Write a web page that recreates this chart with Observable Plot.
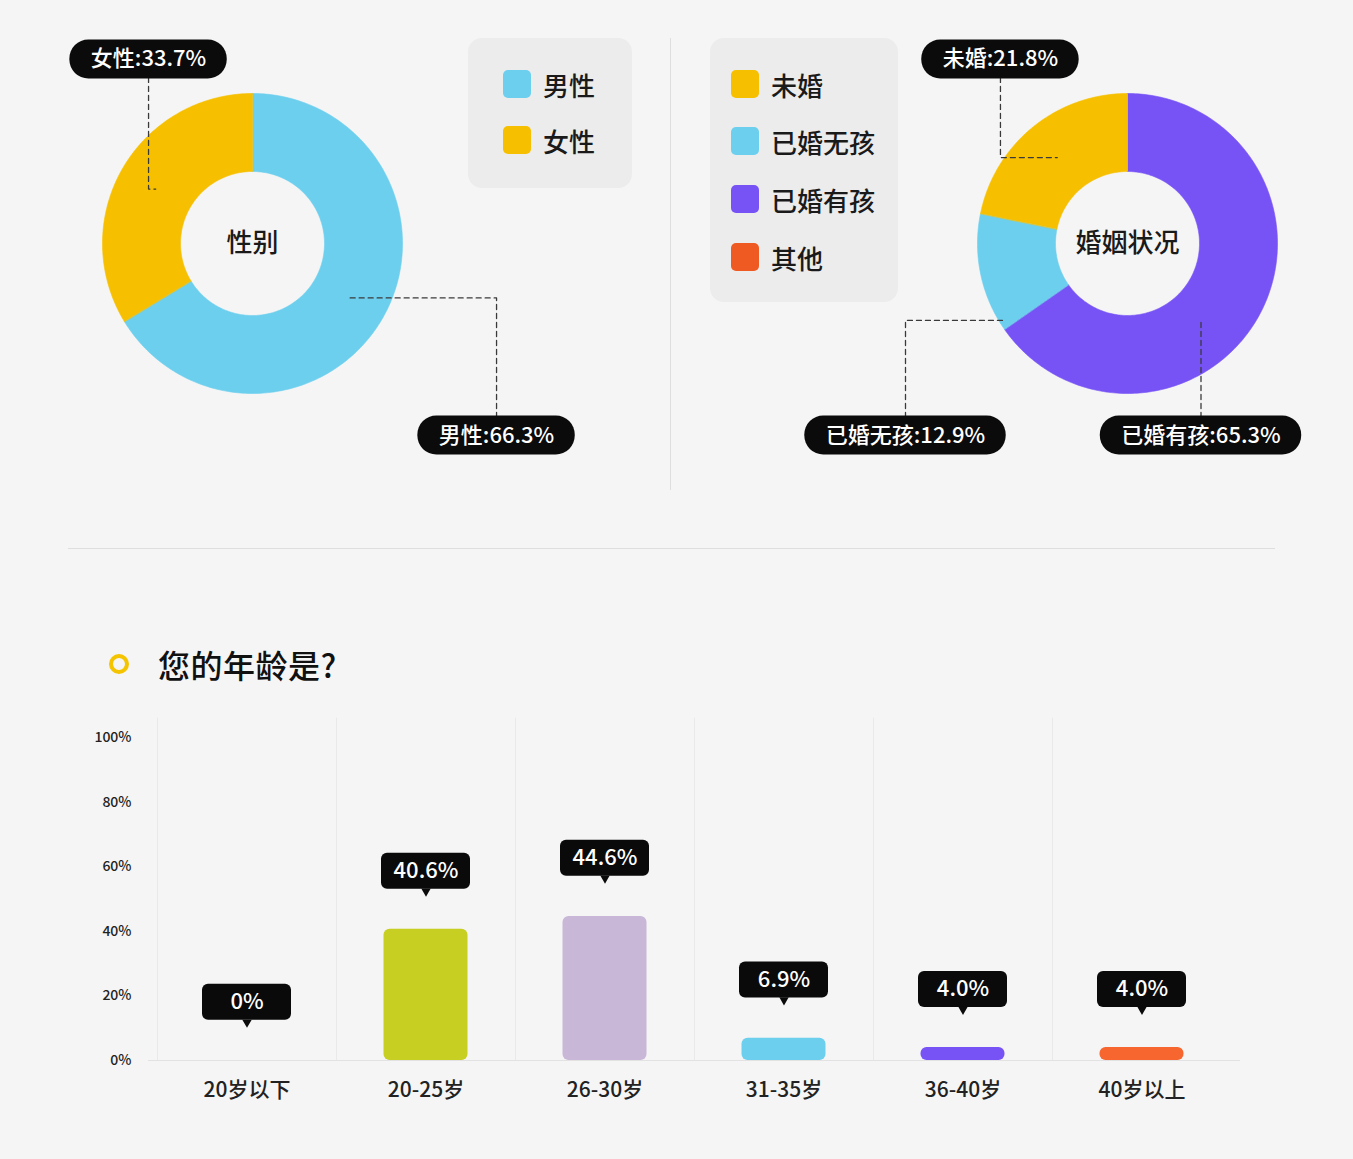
<!DOCTYPE html>
<html><head><meta charset="utf-8">
<script src="https://cdn.jsdelivr.net/npm/d3@7"></script>
<script src="https://cdn.jsdelivr.net/npm/@observablehq/plot@0.6"></script>
<style>
html,body{margin:0;padding:0;background:#f5f5f5;}
body{width:1353px;height:1159px;position:relative;overflow:hidden;font-family:"Noto Sans CJK SC","Noto Sans",sans-serif;color:#1a1a1a;}
.abs{position:absolute;}
.legend{position:absolute;background:#ececec;border-radius:14px;}
.item{position:absolute;height:28px;display:flex;align-items:center;font-size:26px;font-weight:500;color:#1a1a1a;white-space:nowrap;}
.sw{width:28px;height:28px;border-radius:5px;margin-right:12px;flex:none;}
.vline{position:absolute;left:670px;top:38px;width:1px;height:452px;background:#dedede;}
.hline{position:absolute;left:68px;top:548px;width:1207px;height:1px;background:#dedede;}
.ring{position:absolute;left:109px;top:654px;width:20px;height:20px;border:4.5px solid #f5c400;border-radius:50%;box-sizing:border-box;}
.title{position:absolute;left:158px;top:641px;font-size:32px;font-weight:500;line-height:46px;color:#111;letter-spacing:0.5px;}
</style></head><body>
<div class="vline"></div>
<div class="hline"></div>
<div id="d1" class="abs" style="left:0;top:0;"></div>
<div id="d2" class="abs" style="left:670px;top:0;"></div>
<div id="lg1" class="legend" style="left:468px;top:38px;width:164px;height:150px;"></div>
<div id="lg2" class="legend" style="left:710px;top:38px;width:188px;height:264px;"></div>
<div class="ring"></div>
<div class="title">您的年龄是?</div>
<div id="bars" class="abs" style="left:0;top:700px;"></div>
<script>
// ---------- data ----------
const genderNames = ["男性", "女性"];
const genderValues = [66.3, 33.7];
const genderColors = ["#6ccfee", "#f6bf00"];

const marriageNames = ["未婚", "已婚无孩", "已婚有孩", "其他"];
const marriageValues = [21.8, 12.9, 65.3, 0];
const marriageColors = ["#f6bf00", "#6ccfee", "#7753f6", "#ef5a22"];
const marriageSliceOrder = ["已婚有孩", "已婚无孩", "未婚", "其他"];

const ageCats = ["20岁以下", "20-25岁", "26-30岁", "31-35岁", "36-40岁", "40岁以上"];
const agePct = [0, 40.6, 44.6, 6.9, 4.0, 4.0];
const ageColors = ["#bbbbbb", "#c6cf22", "#c8b7d6", "#6dcfee", "#7753f6", "#f7662e"];
const yTicks = [0, 20, 40, 60, 80, 100];

// ---------- helpers ----------
const FONT = '"Noto Sans CJK SC","Noto Sans",sans-serif';
const R_OUT = 1, R_IN = 0.48, PX = 150;
function measure(text, size) {
  const c = measure.c || (measure.c = document.createElement("canvas").getContext("2d"));
  c.font = `500 ${size}px ${FONT}`;
  return c.measureText(text).width;
}

function donutChart({names, values, colors, order, center, cx, cy, width, height, calloutPos}) {
  const total = d3.sum(values);
  const slices = [];
  const mids = new Map();
  let acc = 0;
  for (const name of order) {
    const v = values[names.indexOf(name)];
    const a0 = acc / total * 2 * Math.PI; acc += v;
    const a1 = acc / total * 2 * Math.PI;
    mids.set(name, (a0 + a1) / 2);
    if (!(v > 0)) continue;
    const n = Math.max(2, Math.ceil((a1 - a0) / (Math.PI / 180)));
    for (let k = 0; k <= n; k++) { const a = a0 + (a1 - a0) * k / n; slices.push({name, x: R_OUT * Math.sin(a), y: R_OUT * Math.cos(a)}); }
    for (let k = n; k >= 0; k--) { const a = a0 + (a1 - a0) * k / n; slices.push({name, x: R_IN * Math.sin(a), y: R_IN * Math.cos(a)}); }
  }
  const rMid = (R_OUT + R_IN) / 2;
  const callouts = calloutPos.map(([name, lx, ly, anchor]) => {
    const v = values[names.indexOf(name)];
    const label = `${name}:${v}%`;
    const hw = (measure(label, 22) / 2 + 21) / PX;
    const hh = 19.5 / PX;
    const a = mids.get(name);
    const [ax, ay] = anchor || [rMid * Math.sin(a), rMid * Math.cos(a)];
    return {name, label, lx, ly, x1: lx - hw, x2: lx + hw, y1: ly - hh, y2: ly + hh, ax, ay};
  });
  const leaders = callouts.flatMap(c => [
    {name: c.name, x: c.lx, y: c.ly}, {name: c.name, x: c.lx, y: c.ay}, {name: c.name, x: c.ax, y: c.ay}
  ]);
  return Plot.plot({
    width, height, margin: 0,
    x: {domain: [-1, 1], range: [cx - PX, cx + PX], axis: null},
    y: {domain: [-1, 1], range: [cy + PX, cy - PX], axis: null},
    color: {domain: names, range: colors},
    style: {background: "transparent", overflow: "visible", fontFamily: FONT},
    marks: [
      Plot.line(slices, {x: "x", y: "y", z: "name", fill: "name", stroke: "name", strokeWidth: 0.6, curve: "linear-closed"}),
      Plot.text([center], {x: () => 0, y: () => 0, text: d => d, fontSize: 26, fontWeight: 500, fill: "#1a1a1a"}),
      Plot.line(leaders, {x: "x", y: "y", z: "name", stroke: "#3a3a3a", strokeWidth: 1.3, strokeDasharray: "5,4"}),
      Plot.rect(callouts, {x1: "x1", x2: "x2", y1: "y1", y2: "y2", fill: "#0b0b0b", rx: 19}),
      Plot.text(callouts, {x: "lx", y: "ly", text: "label", fill: "#ffffff", fontSize: 22, fontWeight: 500})
    ]
  });
}

// ---------- donuts ----------
document.getElementById("d1").append(donutChart({
  names: genderNames, values: genderValues, colors: genderColors, order: genderNames,
  center: "性别", cx: 252, cy: 243, width: 670, height: 520,
  calloutPos: [["女性", -0.693, 1.227], ["男性", 1.627, -1.28]]
}));
document.getElementById("d2").append(donutChart({
  names: marriageNames, values: marriageValues, colors: marriageColors, order: marriageSliceOrder,
  center: "婚姻状况", cx: 457, cy: 243, width: 683, height: 520,
  calloutPos: [["未婚", -0.847, 1.227], ["已婚无孩", -1.48, -1.28, [-0.815, -0.513]], ["已婚有孩", 0.49, -1.28, [0.5, -0.513]]]
}));

// ---------- legends ----------
function legend(el, names, colors, left, tops) {
  names.forEach((n, i) => {
    const d = document.createElement("div");
    d.className = "item";
    d.style.left = left + "px";
    d.style.top = tops[i] + "px";
    d.innerHTML = `<span class="sw" style="background:${colors[i]}"></span><span>${n}</span>`;
    el.append(d);
  });
}
legend(document.getElementById("lg1"), genderNames, genderColors, 35, [32, 88]);
legend(document.getElementById("lg2"), marriageNames, marriageColors, 21, [32, 89, 147, 205]);

// ---------- bars ----------
const rows = ageCats.map((age, i) => ({age, v: agePct[i], label: agePct[i] === 0 ? "0%" : agePct[i].toFixed(1) + "%"}));
const x0 = 157, x1 = 1231, bw = (x1 - x0) / ageCats.length;
const kpx = 323 / 100;
const LBL = 18, HH = 18 / kpx;
document.getElementById("bars").append(Plot.plot({
  width: 1353, height: 420, marginTop: 37, marginBottom: 60, marginLeft: 148, marginRight: 113,
  x: {domain: ageCats, range: [x0, x1], padding: 0, label: null},
  y: {domain: [0, 100], range: [360, 37], label: null},
  color: {domain: ageCats, range: ageColors},
  style: {background: "transparent", overflow: "visible", fontFamily: FONT, color: "#222"},
  marks: [
    Plot.ruleX(ageCats, {x: d => d, dx: -bw / 2, y1: 0, y2: 106, stroke: "#e9e9e9"}),
    Plot.ruleY([0], {stroke: "#e2e2e2"}),
    Plot.barY(rows, {x: "age", y: "v", fill: "age", insetLeft: 47.5, insetRight: 47.5, rx: 6}),
    Plot.barY(rows, {x: "age", y1: d => d.v + LBL - HH, y2: d => d.v + LBL + HH, fill: "#0a0a0a", insetLeft: 45, insetRight: 45, rx: 6}),
    Plot.dot(rows, {x: "age", y: d => d.v + LBL - HH, symbol: "triangle", rotate: 180, r: 3.5, fill: "#0a0a0a", dy: 2}),
    Plot.text(rows, {x: "age", y: d => d.v + LBL, text: "label", fill: "#ffffff", fontSize: 22, fontWeight: 500}),
    Plot.axisX({tickSize: 0, tickPadding: 22, fontSize: 21, fontWeight: 500, label: null}),
    Plot.axisY({ticks: yTicks, tickFormat: d => d + "%", tickSize: 0, tickPadding: 17, fontSize: 14, fontWeight: 500, label: null})
  ]
}));
</script>
</body></html>
